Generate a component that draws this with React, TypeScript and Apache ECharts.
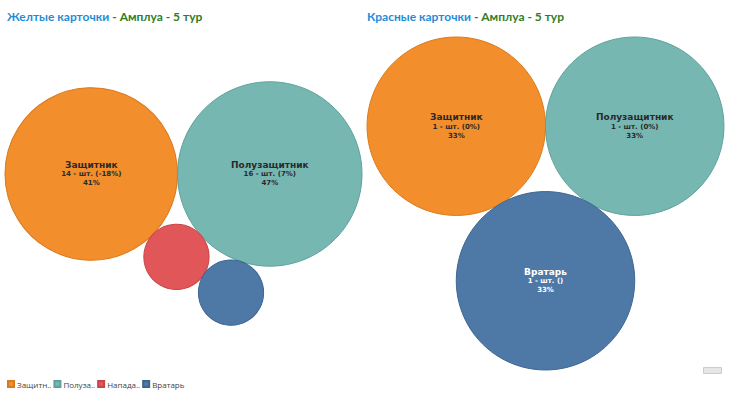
import React, { useEffect, useRef } from "react";
import * as echarts from "echarts";

const categories = ["Защитник", "Полузащитник", "Нападающий", "Вратарь"];
const colors = ["#F28E2B", "#76B7B2", "#E15759", "#4E79A7"];
const borderColors = ["#D97A1C", "#5FA19C", "#C94446", "#3C6590"];
const labelColors = ["#2a2a2a", "#2a2a2a", "#2a2a2a", "#ffffff"];

const yellowCounts = [14, 16, 2, 2];
const yellowChange = ["(-18%)", "(7%)", "()", "()"];
const redCounts = [1, 1, 0, 1];
const redChange = ["(0%)", "(0%)", "()", "()"];

const yellowOrder = ["Полузащитник", "Защитник", "Нападающий", "Вратарь"];
const redOrder = ["Полузащитник", "Защитник", "Вратарь"];

const titleMain = ["Желтые карточки", "Красные карточки"];
const titleSub = " - Амплуа - 5 тур";

type Circle = { name: string; v: number; r: number; x: number; y: number };

function pack(order: string[], counts: number[]): Circle[] {
  const cs: Circle[] = order.map((name) => {
    const v = counts[categories.indexOf(name)];
    return { name, v, r: Math.sqrt(v), x: 0, y: 0 };
  });
  if (cs.length > 1) {
    cs[1].x = -(cs[0].r + cs[1].r);
  }
  const A = cs[0];
  for (let i = 2; i < cs.length; i++) {
    const P = cs[i - 1];
    const c = cs[i];
    const D = Math.hypot(P.x - A.x, P.y - A.y);
    const dA = A.r + c.r;
    const dP = P.r + c.r;
    const a = (dA * dA - dP * dP + D * D) / (2 * D);
    const h = Math.sqrt(Math.max(0, dA * dA - a * a));
    const ux = (P.x - A.x) / D;
    const uy = (P.y - A.y) / D;
    c.x = A.x + a * ux - h * uy;
    c.y = A.y + a * uy + h * ux;
  }
  return cs;
}

const panels = [
  { counts: yellowCounts, change: yellowChange, order: yellowOrder, box: [5, 37, 357, 333] },
  { counts: redCounts, change: redChange, order: redOrder, box: [367, 37, 357, 333] },
];

function shortName(n: string) {
  return n.length > 7 ? n.slice(0, 6) + ".." : n;
}

export default function App() {
  const ref = useRef<HTMLDivElement>(null);
  useEffect(() => {
    if (!ref.current) return;
    document.body.style.margin = "0";
    const chart = echarts.init(ref.current, undefined, { renderer: "svg" });
    const grids: any[] = [];
    const xAxes: any[] = [];
    const yAxes: any[] = [];
    const series: any[] = [];
    panels.forEach((p, pi) => {
      const cs = pack(p.order, p.counts);
      const total = p.counts.reduce((s, v) => s + v, 0);
      const minX = Math.min(...cs.map((c) => c.x - c.r));
      const maxX = Math.max(...cs.map((c) => c.x + c.r));
      const minY = Math.min(...cs.map((c) => c.y - c.r));
      const maxY = Math.max(...cs.map((c) => c.y + c.r));
      const bw = maxX - minX;
      const bh = maxY - minY;
      const [bx, by, bW, bH] = p.box;
      const k = Math.min(bW / bw, bH / bh);
      const w = bw * k;
      const h = bh * k;
      grids.push({ left: bx + (bW - w) / 2, top: by + (bH - h) / 2, width: w, height: h, containLabel: false });
      xAxes.push({ type: "value", gridIndex: pi, min: minX, max: maxX, show: false });
      yAxes.push({ type: "value", gridIndex: pi, min: minY, max: maxY, show: false });
      cs.forEach((c) => {
        const ci = categories.indexOf(c.name);
        const rpx = c.r * k;
        const pct = Math.round((c.v / total) * 100);
        const lc = labelColors[ci];
        series.push({
          type: "scatter",
          name: c.name,
          xAxisIndex: pi,
          yAxisIndex: pi,
          symbol: "circle",
          symbolSize: 2 * rpx,
          itemStyle: { color: colors[ci], borderColor: borderColors[ci], borderWidth: 1, opacity: 1 },
          emphasis: { disabled: true },
          label: {
            show: rpx > 50,
            position: "inside",
            formatter: () => `{n|${c.name}}\n{v|${c.v} - шт. ${p.change[ci]}}\n{p|${pct}%}`,
            rich: {
              n: { fontSize: 9, fontWeight: "bold", color: lc, fontFamily: "DejaVu Sans", lineHeight: 10 },
              v: { fontSize: 7, fontWeight: "bold", color: lc, fontFamily: "DejaVu Sans", lineHeight: 9 },
              p: { fontSize: 7, fontWeight: "bold", color: lc, fontFamily: "DejaVu Sans", lineHeight: 9 },
            },
            align: "center",
          },
          data: [[c.x, c.y, c.v]],
        });
      });
    });

    chart.setOption({
      animation: false,
      backgroundColor: "#ffffff",
      title: [0, 1].map((i) => ({
        left: i === 0 ? 2 : 362,
        top: 5,
        text: `{a|${titleMain[i]}}{b|${titleSub}}`,
        textStyle: {
          rich: {
            a: { fontSize: 12, fontWeight: "bold", color: "#1F8DD6", fontFamily: "Lato" },
            b: { fontSize: 12, fontWeight: "bold", color: "#2E7D1F", fontFamily: "Lato" },
          },
        },
      })),
      legend: {
        left: 2,
        bottom: 3,
        icon: "rect",
        itemWidth: 6,
        itemHeight: 6,
        itemGap: 2,
        data: categories.map((n, i) => ({ name: n, itemStyle: { color: colors[i] } })),
        formatter: (n: string) => shortName(n),
        textStyle: { fontSize: 8, color: "#444", fontFamily: "Open Sans", padding: [0, 0, 0, -2] },
        selectedMode: false,
      },
      grid: grids,
      xAxis: xAxes,
      yAxis: yAxes,
      series,
      graphic: [
        {
          type: "rect",
          right: 8,
          bottom: 22,
          shape: { width: 18, height: 6 },
          style: { fill: "#e6e6e6", stroke: "#cccccc" },
        },
      ],
    });
    return () => chart.dispose();
  }, []);
  return <div ref={ref} style={{ width: 730, height: 396 }} />;
}
